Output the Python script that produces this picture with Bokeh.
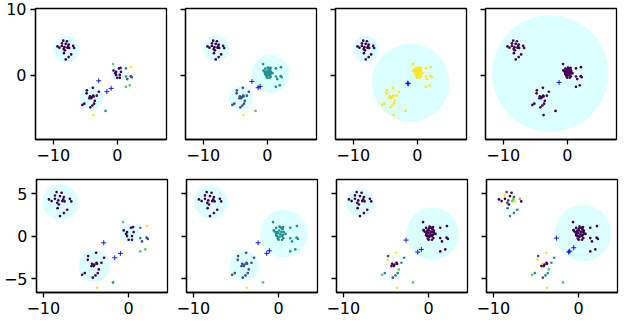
from bokeh.plotting import figure
from bokeh.layouts import column, row
from bokeh.models import FixedTicker, ColumnDataSource
from bokeh.embed import file_html
from bokeh.resources import INLINE

# ---------------- data ----------------
PALETTE = ["#440154", "#3b528b", "#21918c", "#5ec962", "#fde725"]  # label index -> colour

# cluster A (upper left)
A_X = [-8.44, -7.86, -8.64, -8.05, -7.59, -9.34, -9.03, -8.25, -7.78, -7.51,
       -6.89, -6.73, -8.37, -8.17, -8.33, -7.20, -7.59, -8.05, -7.67, -8.64]
A_Y = [5.22, 5.14, 4.82, 4.75, 4.63, 4.35, 4.16, 4.24, 4.16, 4.12,
       4.43, 4.12, 3.96, 3.76, 3.33, 3.14, 2.75, 2.39, 4.35, 4.43]
# cluster B (lower middle)
B_X = [-3.81, -4.75, -2.88, -4.79, -3.77, -4.28, -4.01, -3.70, -3.19, -4.09,
       -3.50, -3.62, -3.89, -4.20, -5.14, -5.45, -4.36]
B_Y = [-1.92, -2.31, -2.51, -2.75, -3.10, -3.22, -3.33, -3.22, -3.10, -3.49,
       -3.88, -4.31, -4.59, -4.86, -4.31, -4.51, -3.49]
# cluster C core (present from the first step)
C0_X = [-0.58, 0.27, 0.51, -0.19, 0.58, -0.19, 0.39, 0.00, 0.39, -0.30]
C0_Y = [0.71, 1.02, 1.10, 0.51, 0.51, 0.04, 0.04, -0.39, -0.39, 0.30]
# cluster C points arriving at step 2
C1_X = [-0.30, 0.10, 0.45, -0.45, 0.05, 0.30, -0.05, 0.20, 0.80, -0.30, 0.10, 0.50, -0.10, 0.55]
C1_Y = [1.00, 1.15, 0.85, 0.55, 0.70, 0.55, 0.40, 0.25, 0.30, 0.15, -0.05, 0.20, -0.25, -0.20]
# cluster C points arriving at step 3
C2_X = [0.00, 0.35, 0.60, 0.62, 0.35, 0.00, -0.20, -0.15, 0.25, 0.45, -0.60]
C2_Y = [0.90, 1.00, 0.70, 0.35, 0.10, 0.05, 0.35, 0.70, 0.50, 0.55, 0.75]
# scattered points
O_X = [-0.66, 1.36, 2.14, 1.36, 2.10, 2.25, 1.56, 1.36, 1.95, -1.83, -3.70]
O_Y = [1.69, 1.02, 1.22, -0.20, -0.15, -0.30, -0.59, -1.76, -1.53, -5.41, -6.04]

# labels per panel (int = whole group one label)
O_LAB_1 = [3, 2, 4, 2, 1, 1, 1, 3, 3, 2, 4]
O_LAB_2 = [2, 2, 2, 2, 2, 2, 2, 2, 2, 3, 4]
O_LAB_3 = [4, 4, 4, 4, 4, 4, 4, 4, 4, 4, 4]
O_LAB_4 = [0, 0, 0, 0, 0, 0, 0, 0, 0, 0, 0]
O_LAB_7 = [0, 0, 0, 0, 0, 0, 0, 0, 0, 3, 4]
B_LAB_7 = [4, 1, 2, 4, 0, 0, 0, 0, 2, 0, 3, 2, 2, 1, 2, 3, 0]
B_LAB_8 = [4, 1, 2, 4, 0, 4, 0, 0, 2, 0, 3, 2, 2, 1, 2, 3, 0]
A_LAB_8 = [1, 0, 4, 0, 1, 0, 0, 1, 3, 4, 3, 0, 1, 0, 2, 2, 2, 2, 3, 0]

PANEL_STAGE = [1, 2, 3, 3, 1, 2, 3, 3]
PANEL_A_LAB = [0, 0, 0, 0, 0, 0, 0, A_LAB_8]
PANEL_B_LAB = [0, 1, 4, 0, 0, 1, B_LAB_7, B_LAB_8]
PANEL_C_LAB = [0, 2, 4, 0, 0, 2, 0, 0]
PANEL_O_LAB = [O_LAB_1, O_LAB_2, O_LAB_3, O_LAB_4, O_LAB_1, O_LAB_2, O_LAB_7, O_LAB_7]

# cluster circles per panel: (centre x, centre y, radius)
CIRCLES = [
    [(-8.00, 3.94, 2.05), (-4.00, -3.48, 1.82), (0.00, 0.15, 0.95)],
    [(-7.95, 4.04, 2.03), (-4.10, -3.50, 1.88), (0.51, 0.18, 2.95)],
    [(-8.00, 3.94, 2.05), (-1.03, -1.16, 6.08)],
    [(-2.65, 0.26, 9.10)],
    [(-7.98, 4.04, 2.10), (-4.00, -3.49, 1.85), (0.12, 0.43, 1.10)],
    [(-7.94, 4.04, 1.95), (-4.00, -3.49, 1.73), (0.62, 0.31, 2.78)],
    [(-7.98, 3.96, 1.65), (0.47, 0.31, 3.07)],
    [(0.51, 0.39, 3.31)],
]
# '+' markers per panel
PLUS_X = [[-2.90, -0.95, -1.62], [-2.40, -1.42, -1.12], [-1.50, -1.40], [-1.28],
          [-2.92, -0.97, -1.63], [-2.41, -1.40, -1.09], [-2.65, -0.86, -1.28],
          [-2.61, -0.58, -1.05, -1.17]]
PLUS_Y = [[-0.85, -2.00, -2.50], [-0.95, -1.90, -1.70], [-1.20, -1.30], [-1.10],
          [-0.75, -2.00, -2.51], [-0.75, -2.00, -1.69], [-0.43, -1.53, -1.84],
          [-0.20, -1.33, -1.73, -1.84]]

X_TICKS = [-10, 0]
Y_TICKS_TOP = [0, 10]
Y_TICKS_BOTTOM = [-5, 0, 5]
TOP_XRANGE = (-12.77, 7.69)
TOP_YRANGE = (-9.74, 10.10)
BOT_XRANGE = (-10.80, 4.55)
BOT_YRANGE = (-6.60, 6.70)


def lab(v, n):
    return [v] * n if isinstance(v, int) else list(v)


def label_text(t):
    return ("\u2212" + str(abs(t))) if t < 0 else str(t)


def make_panel(i):
    top = i < 4
    col = i % 4
    stage = PANEL_STAGE[i]
    xs = A_X + B_X + C0_X
    ys = A_Y + B_Y + C0_Y
    labs = lab(PANEL_A_LAB[i], len(A_X)) + lab(PANEL_B_LAB[i], len(B_X)) + lab(PANEL_C_LAB[i], len(C0_X))
    if stage >= 2:
        xs = xs + C1_X
        ys = ys + C1_Y
        labs = labs + lab(PANEL_C_LAB[i], len(C1_X))
    if stage >= 3:
        xs = xs + C2_X
        ys = ys + C2_Y
        labs = labs + lab(PANEL_C_LAB[i], len(C2_X))
    xs = xs + O_X
    ys = ys + O_Y
    labs = labs + list(PANEL_O_LAB[i])

    p = figure(
        x_range=TOP_XRANGE if top else BOT_XRANGE,
        y_range=TOP_YRANGE if top else BOT_YRANGE,
        frame_width=131,
        frame_height=131 if top else 113,
        min_border_left=35 if col == 0 else 12,
        min_border_right=7,
        min_border_top=8 if top else 10,
        min_border_bottom=30 if top else 28,
        output_backend="svg",
        toolbar_location=None,
        tools="",
    )
    p.grid.visible = False
    p.background_fill_color = "white"
    p.border_fill_color = "white"
    p.outline_line_color = "black"
    p.outline_line_width = 1.3
    p.outline_line_alpha = 1.0

    yt = Y_TICKS_TOP if top else Y_TICKS_BOTTOM
    p.xaxis.ticker = FixedTicker(ticks=X_TICKS)
    p.yaxis.ticker = FixedTicker(ticks=yt)
    p.xaxis.major_label_overrides = {t: label_text(t) for t in X_TICKS}
    if col == 0:
        p.yaxis.major_label_overrides = {t: label_text(t) for t in yt}
    else:
        p.yaxis.major_label_overrides = {t: "" for t in yt}
    for ax in (p.xaxis[0], p.yaxis[0]):
        ax.axis_line_color = "black"
        ax.axis_line_width = 1.3
        ax.major_tick_line_color = "black"
        ax.major_tick_line_width = 1.3
        ax.major_tick_out = 5
        ax.major_tick_in = 0
        ax.minor_tick_line_color = None
        ax.major_label_text_font = "DejaVu Sans"
        ax.major_label_text_font_size = "16px"
        ax.major_label_text_color = "black"
        ax.major_label_standoff = 4

    cx = [c[0] for c in CIRCLES[i]]
    cy = [c[1] for c in CIRCLES[i]]
    cr = [c[2] for c in CIRCLES[i]]
    p.circle(x=cx, y=cy, radius=cr, fill_color="#dcffff", fill_alpha=1.0, line_color=None)

    src = ColumnDataSource(dict(x=xs, y=ys, c=[PALETTE[k] for k in labs]))
    p.scatter("x", "y", source=src, size=2.7, fill_color="c", line_color=None)

    p.scatter(PLUS_X[i], PLUS_Y[i], marker="cross", size=5, line_color="#0000ff", line_width=0.9)
    return p


panels = [make_panel(i) for i in range(8)]
layout = column(row(*panels[:4]), row(*panels[4:]))

with open("out.html", "w") as f:
    f.write(file_html(layout, INLINE))
